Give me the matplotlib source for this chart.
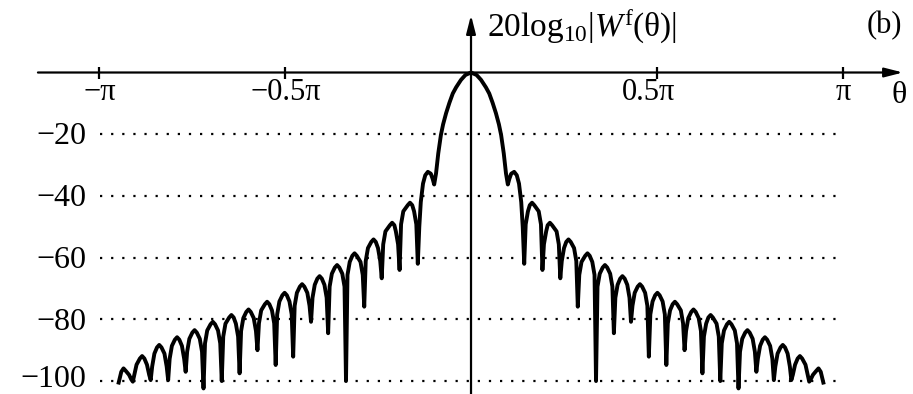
import numpy as np
import matplotlib
matplotlib.use("Agg")
import matplotlib.pyplot as plt

plt.rcParams['font.family'] = ['Liberation Serif', 'DejaVu Serif']
plt.rcParams['mathtext.fontset'] = 'custom'
plt.rcParams['mathtext.rm'] = 'Liberation Serif'
plt.rcParams['mathtext.it'] = 'Liberation Serif:italic'

# right half of the magnitude response (it is symmetric)
# theta in units of pi, level in dB
theta_half = [
    0.000, 0.015, 0.027, 0.040, 0.049, 0.058, 0.067, 0.075, 0.081, 0.088, 0.094, 0.099,
    0.103, 0.108, 0.116, 0.123, 0.129, 0.135, 0.139, 0.143,
    0.147, 0.153, 0.158, 0.164, 0.170, 0.182, 0.188, 0.192,
    0.196, 0.202, 0.206, 0.212, 0.218, 0.230, 0.236, 0.240,
    0.244, 0.250, 0.256, 0.262, 0.268, 0.277, 0.283, 0.287,
    0.291, 0.297, 0.307, 0.313, 0.319, 0.326, 0.332, 0.336,
    0.340, 0.346, 0.354, 0.360, 0.366, 0.374, 0.380, 0.384,
    0.388, 0.394, 0.401, 0.407, 0.413, 0.420, 0.426, 0.430,
    0.434, 0.440, 0.448, 0.454, 0.460, 0.468, 0.474, 0.478,
    0.482, 0.488, 0.495, 0.501, 0.507, 0.515, 0.521, 0.525,
    0.529, 0.535, 0.542, 0.548, 0.554, 0.564, 0.570, 0.574,
    0.578, 0.584, 0.592, 0.598, 0.604, 0.612, 0.618, 0.622,
    0.626, 0.632, 0.638, 0.644, 0.650, 0.660, 0.666, 0.670,
    0.674, 0.680, 0.688, 0.694, 0.700, 0.709, 0.715, 0.719,
    0.723, 0.729, 0.737, 0.743, 0.749, 0.757, 0.763, 0.767,
    0.771, 0.777, 0.784, 0.790, 0.796, 0.804, 0.810, 0.814,
    0.818, 0.824, 0.832, 0.838, 0.844, 0.851, 0.857, 0.861,
    0.865, 0.871, 0.878, 0.884, 0.890, 0.899, 0.905, 0.909,
    0.913, 0.919, 0.928, 0.934, 0.940, 0.944, 0.947,
]
db_half = [
    0.0, -0.8, -2.4, -4.8, -6.8, -9.8, -13.2, -16.8, -20.3, -26.2, -32.7, -36.3,
    -34.5, -32.8, -32.2, -33.3, -36.0, -42.0, -50.0, -62.0,
    -49.2, -45.0, -43.0, -42.2, -43.0, -45.0, -49.2, -64.0,
    -55.7, -51.5, -49.5, -48.7, -49.5, -51.5, -55.7, -66.7,
    -61.1, -56.9, -54.9, -54.1, -54.9, -56.9, -61.1, -75.9,
    -65.6, -61.4, -59.4, -58.6, -59.4, -61.4, -65.6, -100.0,
    -69.4, -65.2, -63.2, -62.4, -63.2, -65.2, -69.4, -84.5,
    -73.0, -68.8, -66.8, -66.0, -66.8, -68.8, -73.0, -80.8,
    -75.6, -71.4, -69.4, -68.6, -69.4, -71.4, -75.6, -92.1,
    -78.4, -74.2, -72.2, -71.4, -72.2, -74.2, -78.4, -94.8,
    -81.3, -77.1, -75.1, -74.3, -75.1, -77.1, -81.3, -90.0,
    -83.8, -79.6, -77.6, -76.8, -77.6, -79.6, -83.8, -97.5,
    -85.6, -81.4, -79.4, -78.6, -79.4, -81.4, -85.6, -100.0,
    -87.8, -83.6, -81.6, -80.8, -81.6, -83.6, -87.8, -102.4,
    -90.5, -86.3, -84.3, -83.5, -84.3, -86.3, -90.5, -97.0,
    -92.8, -88.6, -86.6, -85.8, -86.6, -88.6, -92.8, -99.7,
    -95.3, -91.1, -89.1, -88.3, -89.1, -91.1, -95.3, -99.7,
    -98.0, -94.7, -92.7, -91.9, -92.7, -94.7, -98.0, -100.2,
    -99.5, -98.0, -96.7, -95.9, -97.0, -99.0, -100.5,
]

y_grid = [-20, -40, -60, -80, -100]
y_labels = ['\u221220', '\u221240', '\u221260', '\u221280', '\u2212100']
y_label_base = [-23.3, -43.3, -63.3, -83.3, -102.0]
x_ticks = [-1, -0.5, 0.5, 1]
x_labels = ['\u2212\u03c0', '\u22120.5\u03c0', '0.5\u03c0', '\u03c0']
x_label_pos = [-0.997, -0.497, 0.476, 1.0]

theta = np.concatenate([-np.array(theta_half[:0:-1]), theta_half])
db = np.concatenate([np.array(db_half[:0:-1]), db_half])

fig = plt.figure(figsize=(9.13, 3.94), dpi=100)
ax = fig.add_axes([0, 0, 1, 1])
ax.set_xlim(-1.266, 1.188)
ax.set_ylim(-104.2, 23.5)
ax.axis('off')

# dotted level lines
ax.hlines(y_grid, -0.997, 0.99, colors='k', linestyles=(0, (1, 4)), lw=1.6)

# axes with arrow heads
arrow = dict(arrowstyle='-|>,head_length=0.55,head_width=0.14', lw=1.6,
             color='k', mutation_scale=20, shrinkA=0, shrinkB=0)
ax.annotate('', xy=(1.161, 0), xytext=(-1.164, 0), arrowprops=arrow)
ax.annotate('', xy=(0, 18.6), xytext=(0, -104.2), arrowprops=arrow)
ax.plot(x_ticks, [0] * len(x_ticks), ls='none', marker='|', ms=9, mew=1.6, color='k')

ax.plot(theta, db, color='k', lw=2.8, solid_joinstyle='round', clip_on=False)

for xp, lab in zip(x_label_pos, x_labels):
    ax.text(xp, -8.9, lab, ha='center', va='baseline', fontsize=22)
for yb, lab in zip(y_label_base, y_labels):
    ax.text(-1.035, yb, lab, ha='right', va='baseline', fontsize=23)

ax.text(0.043, 11.6, '$\\mathrm{20log}_{\\mathrm{10}}|W^{\\mathrm{f}}(\\mathrm{\u03b8})|$',
        ha='left', va='baseline', fontsize=24)
ax.text(1.110, 12.8, '(b)', ha='center', va='baseline', fontsize=22)
ax.text(1.151, -9.9, '\u03b8', ha='center', va='baseline', fontsize=23)

fig.savefig('out.png', dpi=100)
